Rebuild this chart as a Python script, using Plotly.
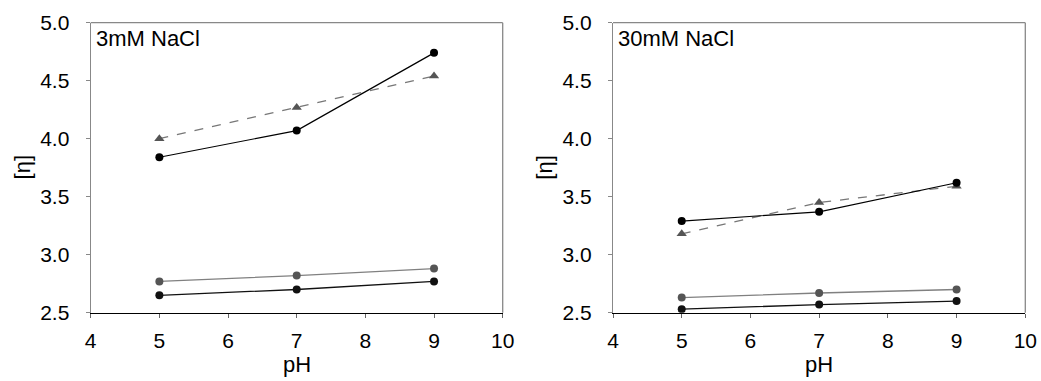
import plotly.graph_objects as go

ph = [5, 7, 9]
# 3 mM NaCl
a_black_top = [3.84, 4.07, 4.74]
a_tri = [4.00, 4.27, 4.54]
a_gray = [2.77, 2.82, 2.88]
a_black_bot = [2.65, 2.70, 2.77]
# 30 mM NaCl
b_black_top = [3.29, 3.37, 3.62]
b_tri = [3.18, 3.45, 3.59]
b_gray = [2.63, 2.67, 2.70]
b_black_bot = [2.53, 2.57, 2.60]

panel_titles = ["3mM NaCl", "30mM NaCl"]
x_title = "pH"
y_title = "[η]"
x_ticks = [4, 5, 6, 7, 8, 9, 10]
y_ticks = [2.5, 3.0, 3.5, 4.0, 4.5, 5.0]

W, H = 1041, 381
FONT = "Liberation Sans, Arial, sans-serif"
FS_TICK = 21
FS_TITLE = 22

fig = go.Figure()

def add_panel(xa, ya, top, tri, gray, bot):
    fig.add_trace(go.Scatter(x=ph, y=gray, mode="lines+markers", xaxis=xa, yaxis=ya,
                             line=dict(color="#808080", width=1.3),
                             marker=dict(color="#555555", size=8, symbol="circle"), showlegend=False))
    fig.add_trace(go.Scatter(x=ph, y=bot, mode="lines+markers", xaxis=xa, yaxis=ya,
                             line=dict(color="#111111", width=1.3),
                             marker=dict(color="#111111", size=8, symbol="circle"), showlegend=False))
    fig.add_trace(go.Scatter(x=ph, y=tri, mode="lines+markers", xaxis=xa, yaxis=ya,
                             line=dict(color="#777777", width=1.3, dash="dash"),
                             marker=dict(color="#555555", size=9, symbol="triangle-up"), showlegend=False))
    fig.add_trace(go.Scatter(x=ph, y=top, mode="lines+markers", xaxis=xa, yaxis=ya,
                             line=dict(color="#000000", width=1.2),
                             marker=dict(color="#000000", size=8, symbol="circle"), showlegend=False))

add_panel("x", "y", a_black_top, a_tri, a_gray, a_black_bot)
add_panel("x2", "y2", b_black_top, b_tri, b_gray, b_black_bot)

def px_x(v):
    return v / W

def px_y(v):
    return 1 - v / H

ydom = [px_y(312.7), px_y(22.7)]
xdoms = [[px_x(90.7), px_x(502.7)], [px_x(613.0), px_x(1025.3)]]

axis_common = dict(showline=True, linewidth=1.3, ticks="outside",
                   ticklen=4, tickwidth=1.3, showgrid=False, zeroline=False,
                   tickfont=dict(family=FONT, size=FS_TICK, color="black"), automargin=False,
                   ticklabeloverflow="allow")

layout = dict(
    width=W, height=H, margin=dict(l=0, r=0, t=0, b=0),
    paper_bgcolor="white", plot_bgcolor="white",
    font=dict(family=FONT, size=FS_TICK, color="black"),
)
for i, suffix in enumerate(["", "2"]):
    layout["xaxis" + suffix] = dict(axis_common, domain=xdoms[i], range=[4, 10], tickvals=x_ticks,
                                    anchor="y" + suffix, ticklabelstandoff=5,
                                    linecolor="black", tickcolor="#666666")
    layout["yaxis" + suffix] = dict(axis_common, domain=ydom, range=[2.5, 5.0], tickvals=y_ticks,
                                    tickformat=".1f", anchor="x" + suffix, ticklabelstandoff=12,
                                    linecolor="#888888", tickcolor="#888888")
fig.update_layout(**layout)

for i, suffix in enumerate(["", "2"]):
    xr = "x" + suffix + " domain"
    yr = "y" + suffix + " domain"
    fig.add_shape(type="line", xref=xr, yref=yr, x0=0, x1=1, y0=1, y1=1,
                  line=dict(color="#888888", width=1.3))
    fig.add_shape(type="line", xref=xr, yref=yr, x0=1, x1=1, y0=0, y1=1,
                  line=dict(color="#888888", width=1.3))
    fig.add_annotation(text=panel_titles[i], xref=xr, yref=yr, x=0.008, y=1.0,
                       xanchor="left", yanchor="top", showarrow=False, yshift=-1,
                       font=dict(family=FONT, size=FS_TITLE, color="black"))
    # axis titles
    fig.add_annotation(text=x_title, xref=xr, yref="paper", x=0.5, y=px_y(364),
                       xanchor="center", yanchor="middle", showarrow=False,
                       font=dict(family=FONT, size=FS_TITLE, color="black"))
    fig.add_annotation(text=y_title, xref="paper", yref=yr,
                       x=px_x(xdoms[i][0] * W - 68), y=0.5, textangle=-90,
                       xanchor="center", yanchor="middle", showarrow=False,
                       font=dict(family=FONT, size=FS_TITLE, color="black"))

fig.write_html("out.html", config={"displayModeBar": False},
               post_script="document.body.style.margin='0';document.body.style.overflow='hidden';")
